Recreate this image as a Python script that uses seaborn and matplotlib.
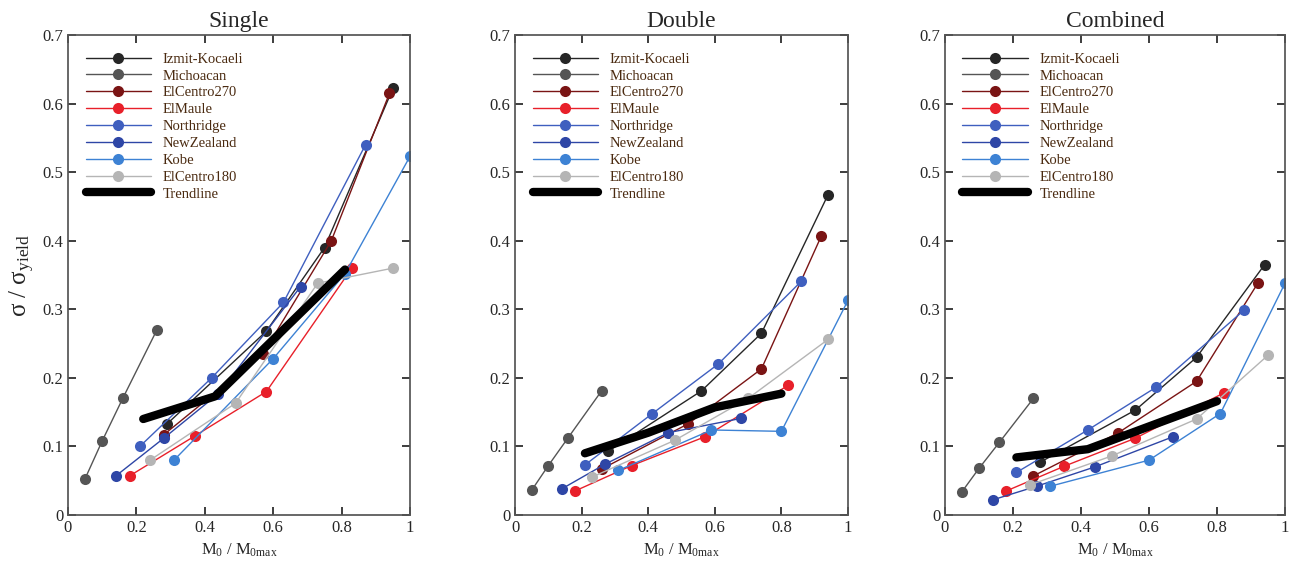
import matplotlib
matplotlib.use("Agg")
import matplotlib.pyplot as plt
import seaborn as sns
import pandas as pd

names = ["Izmit-Kocaeli","Michoacan","ElCentro270","ElMaule","Northridge","NewZealand","Kobe","ElCentro180"]
colors = ["#262626","#555555","#7a1414","#e8202a","#3f5fbf","#2e46a6","#3d82d4","#b5b5b5"]
titles = ["Single","Double","Combined"]

single = {
 "Izmit-Kocaeli": ([0.29,0.58,0.75,0.95],[0.133,0.268,0.39,0.622]),
 "Michoacan": ([0.05,0.10,0.16,0.26],[0.053,0.108,0.17,0.27]),
 "ElCentro270": ([0.28,0.57,0.77,0.94],[0.117,0.235,0.40,0.615]),
 "ElMaule": ([0.18,0.37,0.58,0.83],[0.057,0.115,0.18,0.36]),
 "Northridge": ([0.21,0.42,0.63,0.87],[0.10,0.20,0.31,0.54]),
 "NewZealand": ([0.14,0.28,0.44,0.68],[0.057,0.112,0.177,0.333]),
 "Kobe": ([0.31,0.60,0.81,1.0],[0.08,0.228,0.352,0.523]),
 "ElCentro180": ([0.24,0.49,0.73,0.95],[0.08,0.163,0.338,0.36]),
}
single_trend = ([0.22,0.43,0.81],[0.14,0.173,0.358])

double = {
 "Izmit-Kocaeli": ([0.28,0.56,0.74,0.94],[0.093,0.181,0.265,0.467]),
 "Michoacan": ([0.05,0.10,0.16,0.26],[0.036,0.072,0.113,0.181]),
 "ElCentro270": ([0.26,0.52,0.74,0.92],[0.067,0.133,0.213,0.407]),
 "ElMaule": ([0.18,0.35,0.57,0.82],[0.035,0.072,0.114,0.189]),
 "Northridge": ([0.21,0.41,0.61,0.86],[0.073,0.147,0.22,0.341]),
 "NewZealand": ([0.14,0.27,0.46,0.68],[0.038,0.074,0.12,0.141]),
 "Kobe": ([0.31,0.59,0.80,1.0],[0.065,0.124,0.122,0.313]),
 "ElCentro180": ([0.23,0.48,0.70,0.94],[0.055,0.109,0.17,0.256]),
}
double_trend = ([0.21,0.40,0.60,0.80],[0.09,0.12,0.157,0.177])

combined = {
 "Izmit-Kocaeli": ([0.28,0.56,0.74,0.94],[0.077,0.153,0.23,0.365]),
 "Michoacan": ([0.05,0.10,0.16,0.26],[0.034,0.068,0.106,0.17]),
 "ElCentro270": ([0.26,0.51,0.74,0.92],[0.057,0.12,0.195,0.338]),
 "ElMaule": ([0.18,0.35,0.56,0.82],[0.035,0.071,0.112,0.178]),
 "Northridge": ([0.21,0.42,0.62,0.88],[0.062,0.124,0.186,0.299]),
 "NewZealand": ([0.14,0.27,0.44,0.67],[0.022,0.042,0.07,0.114]),
 "Kobe": ([0.31,0.60,0.81,1.0],[0.042,0.08,0.148,0.338]),
 "ElCentro180": ([0.25,0.49,0.74,0.95],[0.044,0.086,0.14,0.233]),
}
combined_trend = ([0.21,0.42,0.80],[0.084,0.096,0.166])

panels = [(single, single_trend), (double, double_trend), (combined, combined_trend)]

sns.set_theme(style="ticks")
plt.rcParams['font.family'] = ['Liberation Serif', 'DejaVu Serif']
plt.rcParams['mathtext.fontset'] = 'custom'
plt.rcParams['mathtext.rm'] = 'Liberation Serif'
plt.rcParams['mathtext.it'] = 'Liberation Serif'

fig = plt.figure(figsize=(12.93, 5.71), dpi=100)
lefts = [68, 515, 945]
widths = [342, 333, 340]
for i, ((data, trend), title) in enumerate(zip(panels, titles)):
    ax = fig.add_axes([lefts[i]/1293, 56/571, widths[i]/1293, 480/571])
    for n, c in zip(names, colors):
        x, y = data[n]
        df = pd.DataFrame({"x": x, "y": y})
        sns.lineplot(data=df, x="x", y="y", ax=ax, color=c, lw=1, marker="o",
                     markersize=8, markeredgewidth=0, label=n, sort=False)
    df = pd.DataFrame({"x": trend[0], "y": trend[1]})
    sns.lineplot(data=df, x="x", y="y", ax=ax, color="black", lw=6, label="Trendline", sort=False)
    ax.set_xlim(0, 1); ax.set_ylim(0, 0.7)
    ax.set_xticks([0,0.2,0.4,0.6,0.8,1]); ax.set_xticklabels(["0","0.2","0.4","0.6","0.8","1"])
    ax.set_yticks([0,0.1,0.2,0.3,0.4,0.5,0.6,0.7]); ax.set_yticklabels(["0","0.1","0.2","0.3","0.4","0.5","0.6","0.7"])
    ax.tick_params(direction="in", top=True, right=True, labelsize=12)
    for s in ax.spines.values():
        s.set_color("#555555")
    ax.set_title(title, fontsize=17)
    ax.set_xlabel(r"M$_\mathrm{0}$ / M$_\mathrm{0max}$", fontsize=12)
    ax.set_ylabel(r"σ / σ$_\mathrm{yield}$" if i == 0 else "", fontsize=18)
    leg = ax.legend(loc="upper left", frameon=False, fontsize=10.5, handlelength=4.5,
                    labelspacing=0.25, borderaxespad=0.8)
    for t in leg.get_texts():
        t.set_color("#4a2a10")

fig.savefig("out.png", dpi=100)
